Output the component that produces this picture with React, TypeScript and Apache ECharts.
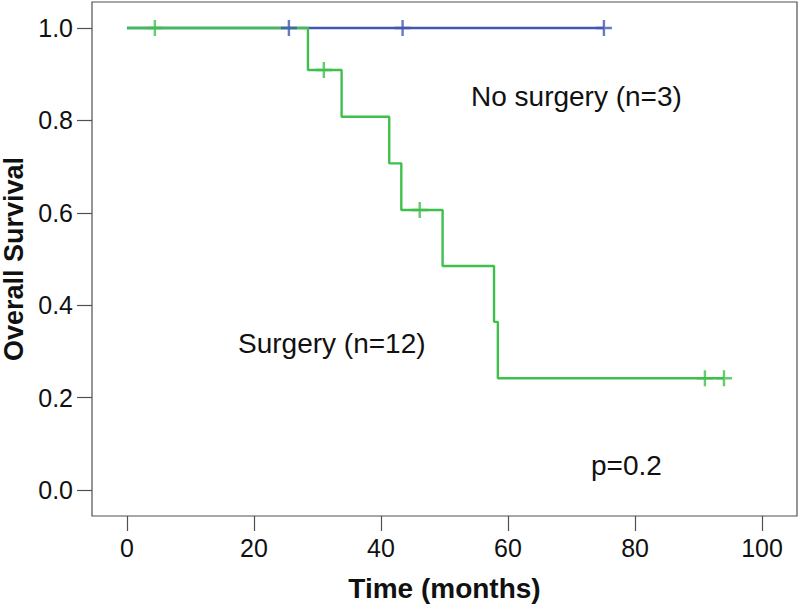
import React, { useEffect, useRef } from "react";
import * as echarts from "echarts";

// Kaplan-Meier: Surgery (n=12)
const surgeryEventTimes = [28.5, 33.8, 41.3, 43.2, 49.7, 57.8, 58.4];
const surgerySurvival = [0.909, 0.808, 0.707, 0.606, 0.485, 0.364, 0.242];
const surgeryCensorTimes = [4.4, 31.0, 46.1, 91.0, 94.0];
const surgeryCensorSurvival = [1.0, 0.909, 0.606, 0.242, 0.242];
const surgeryEndTime = 94.0;

// Kaplan-Meier: No surgery (n=3)
const noSurgeryCensorTimes = [25.5, 43.4, 75.1];
const noSurgeryCensorSurvival = [1.0, 1.0, 1.0];
const noSurgeryEndTime = 75.1;

const xTicks = [0, 20, 40, 60, 80, 100];
const yTicks = [0, 0.2, 0.4, 0.6, 0.8, 1.0];

const GREEN = "#3fbf4b";
const BLUE = "#4456b4";
const FONT = "'Liberation Sans', Arial, Helvetica, sans-serif";
const PLUS = "path://M0,8L16,8M8,0L8,16";

export default function App() {
  const ref = useRef<HTMLDivElement>(null);
  useEffect(() => {
    if (!ref.current) return;
    const chart = echarts.init(ref.current, null, { renderer: "svg" });

    const surgeryLine: number[][] = [[0, 1]];
    surgeryEventTimes.forEach((t, i) => surgeryLine.push([t, surgerySurvival[i]]));
    surgeryLine.push([surgeryEndTime, surgerySurvival[surgerySurvival.length - 1]]);
    const noSurgeryLine: number[][] = [[0, 1], [noSurgeryEndTime, 1]];

    chart.setOption({
      animation: false,
      grid: {
        left: 92,
        right: 3,
        top: 2,
        bottom: 90,
        containLabel: false,
        outerBoundsMode: "none",
        show: true,
        borderColor: "#505050",
        borderWidth: 1.2,
        backgroundColor: "#fff",
      },
      xAxis: {
        type: "value",
        min: -5.5,
        max: 105.5,
        axisLine: { show: false, onZero: false },
        splitLine: { show: false },
        axisTick: { show: true, length: 15, customValues: xTicks, lineStyle: { color: "#505050", width: 1.2 } },
        axisLabel: {
          customValues: xTicks,
          margin: 19,
          fontSize: 25,
          color: "#111",
          fontFamily: FONT,
        },
        name: "Time (months)",
        nameLocation: "middle",
        nameGap: 58,
        nameTextStyle: { fontSize: 28, fontWeight: "bold", color: "#111", fontFamily: FONT },
      },
      yAxis: {
        type: "value",
        min: -0.0563,
        max: 1.0563,
        axisLine: { show: false, onZero: false },
        splitLine: { show: false },
        axisTick: { show: true, length: 15, customValues: yTicks, lineStyle: { color: "#505050", width: 1.2 } },
        axisLabel: {
          customValues: yTicks,
          margin: 19,
          fontSize: 25,
          color: "#111",
          fontFamily: FONT,
          formatter: (v: number) => v.toFixed(1),
        },
        name: "Overall Survival",
        nameLocation: "middle",
        nameGap: 63,
        nameTextStyle: { fontSize: 27, fontWeight: "bold", color: "#111", fontFamily: FONT },
      },
      series: [
        {
          name: "No surgery line",
          type: "line",
          step: "end",
          data: noSurgeryLine,
          showSymbol: false,
          silent: true,
          z: 2,
          lineStyle: { color: BLUE, width: 2.4 },
        },
        {
          name: "Surgery line",
          type: "line",
          step: "end",
          data: surgeryLine,
          showSymbol: false,
          silent: true,
          z: 3,
          lineStyle: { color: GREEN, width: 2.4 },
        },
        {
          name: "No surgery censored",
          type: "scatter",
          data: noSurgeryCensorTimes.map((t, i) => [t, noSurgeryCensorSurvival[i]]),
          symbol: PLUS,
          symbolSize: [16, 16],
          silent: true,
          z: 4,
          itemStyle: { color: "transparent", borderColor: BLUE, borderWidth: 2.4 },
        },
        {
          name: "Surgery censored",
          type: "scatter",
          data: surgeryCensorTimes.map((t, i) => [t, surgeryCensorSurvival[i]]),
          symbol: PLUS,
          symbolSize: [16, 16],
          silent: true,
          z: 5,
          itemStyle: { color: "transparent", borderColor: GREEN, borderWidth: 2.4 },
        },
      ],
      graphic: [
        {
          type: "text",
          x: 471,
          y: 96,
          style: { text: "No surgery (n=3)", fontSize: 28, fontFamily: FONT, fill: "#111", verticalAlign: "middle" },
        },
        {
          type: "text",
          x: 238,
          y: 343,
          style: { text: "Surgery (n=12)", fontSize: 28, fontFamily: FONT, fill: "#111", verticalAlign: "middle" },
        },
        {
          type: "text",
          x: 591,
          y: 465,
          style: { text: "p=0.2", fontSize: 28, fontFamily: FONT, fill: "#111", verticalAlign: "middle" },
        },
      ],
    });
    return () => chart.dispose();
  }, []);

  return (
    <div
      ref={ref}
      style={{ position: "fixed", left: 0, top: 0, width: 800, height: 606, background: "#fff" }}
    />
  );
}
